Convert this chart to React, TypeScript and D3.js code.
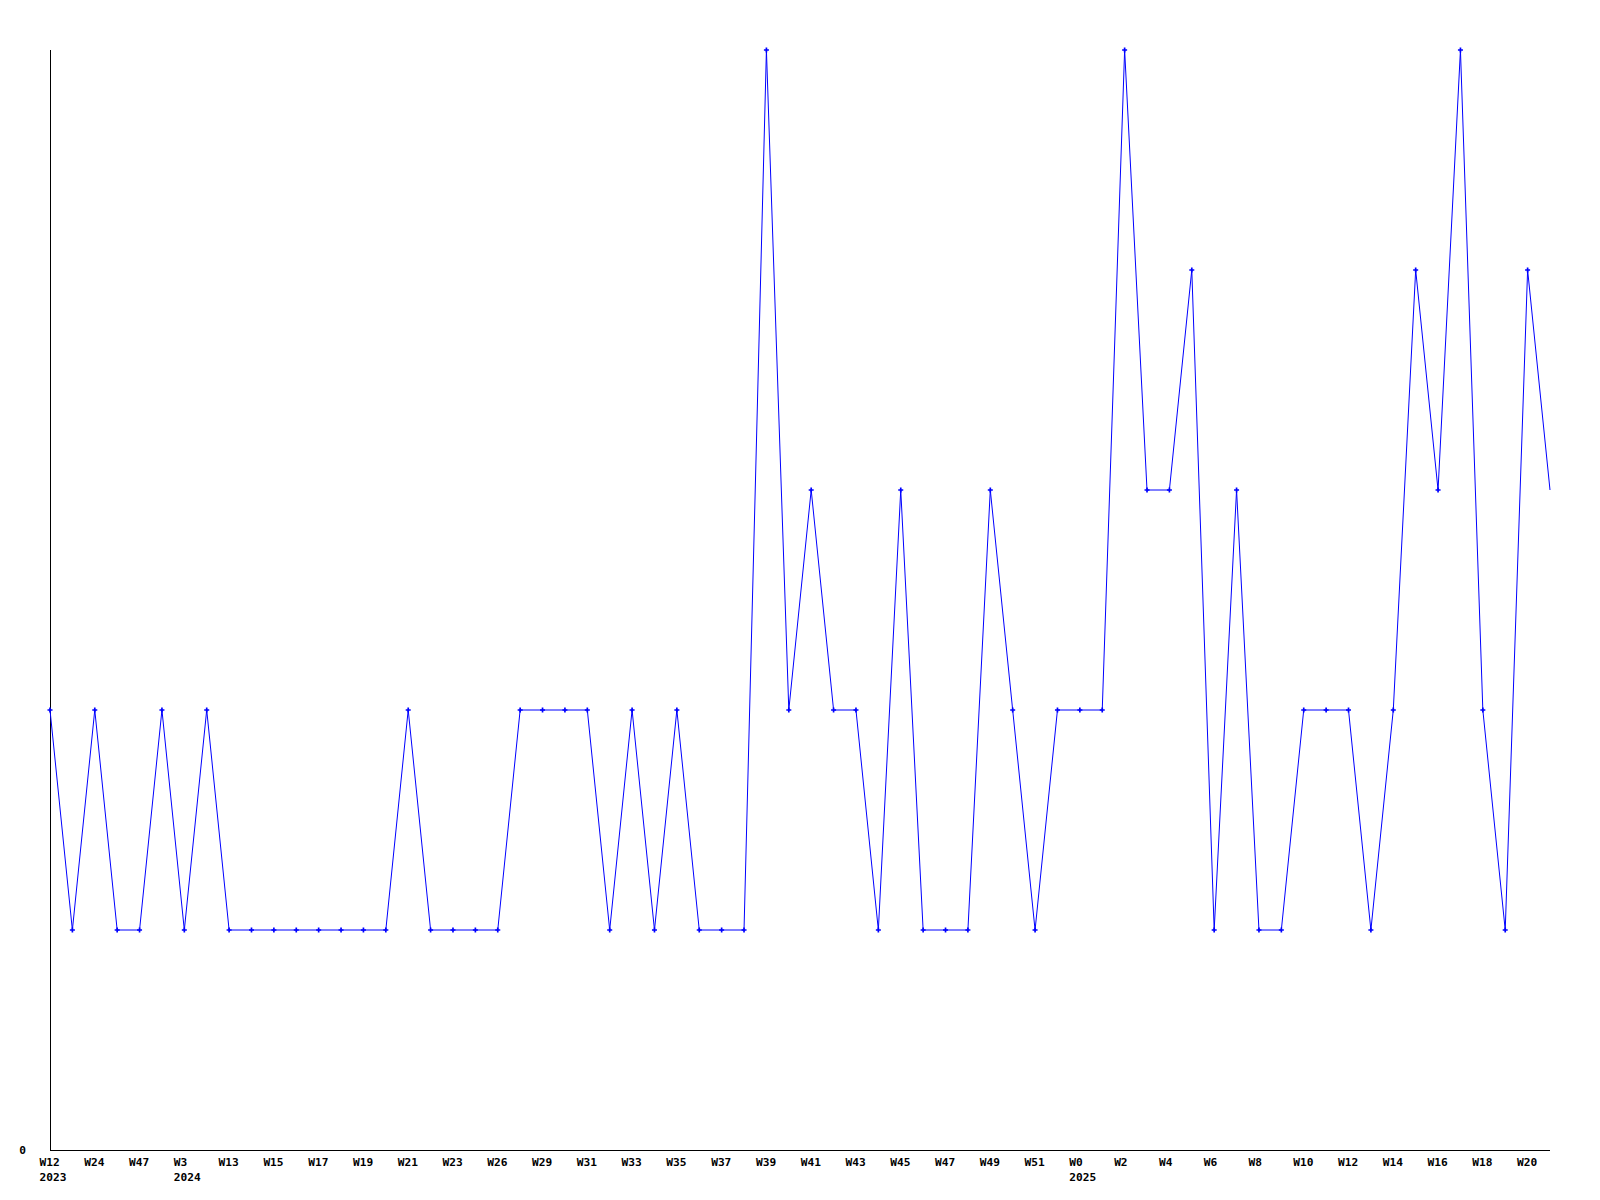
import React, { useEffect, useRef } from "react";
import * as d3 from "d3";

const values: number[] = [
  2, 1, 2, 1, 1, 2, 1, 2, 1, 1,
  1, 1, 1, 1, 1, 1, 2, 1, 1, 1,
  1, 2, 2, 2, 2, 1, 2, 1, 2, 1,
  1, 1, 5, 2, 3, 2, 2, 1, 3, 1,
  1, 1, 3, 2, 1, 2, 2, 2, 5, 3,
  3, 4, 1, 3, 1, 1, 2, 2, 2, 1,
  2, 4, 3, 5, 2, 1, 4, 3,
];

const tickWeeks: string[] = [
  "W12", "W24", "W47", "W3", "W13", "W15", "W17", "W19", "W21", "W23",
  "W26", "W29", "W31", "W33", "W35", "W37", "W39", "W41", "W43", "W45",
  "W47", "W49", "W51", "W0", "W2", "W4", "W6", "W8", "W10", "W12",
  "W14", "W16", "W18", "W20",
];
const tickYears: string[] = [
  "2023", "", "", "2024", "", "", "", "", "", "",
  "", "", "", "", "", "", "", "", "", "",
  "", "", "", "2025", "", "", "", "", "", "",
  "", "", "", "",
];
const yTicks: number[] = [0];

const W = 1600;
const H = 1200;
const left = 50;
const right = 1550;
const top = 50;
const bottom = 1150;
const font = "'DejaVu Sans Mono', monospace";
const fs = 11.2;

export default function App() {
  const ref = useRef<SVGSVGElement>(null);
  useEffect(() => {
    const svg = d3.select(ref.current);
    svg.selectAll("*").remove();
    const x = d3.scaleLinear().domain([0, values.length - 1]).range([left, right]);
    const y = d3.scaleLinear().domain([0, 5]).range([bottom, top]);

    svg.append("rect").attr("width", W).attr("height", H).attr("fill", "#fff");

    // axes
    svg.append("line").attr("x1", left).attr("x2", left).attr("y1", top).attr("y2", bottom)
      .attr("stroke", "#000").attr("stroke-width", 1).attr("shape-rendering", "crispEdges");
    svg.append("line").attr("x1", left).attr("x2", right).attr("y1", bottom).attr("y2", bottom)
      .attr("stroke", "#000").attr("stroke-width", 1).attr("shape-rendering", "crispEdges");

    // y tick labels
    svg.selectAll("text.yt").data(yTicks).enter().append("text")
      .attr("class", "yt")
      .attr("x", 26).attr("y", (d) => y(d) + 3.5)
      .attr("text-anchor", "end")
      .attr("font-family", font).attr("font-weight", "bold").attr("font-size", fs)
      .text((d) => String(d));

    // x tick labels (left-aligned slightly before each tick)
    tickWeeks.forEach((w, k) => {
      const idx = k * 2;
      svg.append("text")
        .attr("x", x(idx) - 10.5)
        .attr("y", 1166)
        .attr("font-family", font).attr("font-weight", "bold").attr("font-size", fs)
        .text(w);
      if (tickYears[k]) {
        svg.append("text")
          .attr("x", x(idx) - 10.5)
          .attr("y", 1181)
          .attr("font-family", font).attr("font-weight", "bold").attr("font-size", fs)
          .text(tickYears[k]);
      }
    });

    const line = d3.line<number>().x((_, i) => x(i)).y((d) => y(d));
    svg.append("path").datum(values).attr("d", line)
      .attr("fill", "none").attr("stroke", "#0000ff").attr("stroke-width", 1);

    const sym = d3.symbol().type(d3.symbolCross).size(14);
    svg.selectAll("path.m").data(values.slice(0, values.length - 1)).enter().append("path")
      .attr("class", "m")
      .attr("d", sym)
      .attr("transform", (d, i) => `translate(${x(i)},${y(d)})`)
      .attr("fill", "#0000ff");
  }, []);
  return (
    <svg ref={ref} width={W} height={H}
      style={{ position: "absolute", left: 0, top: 0, display: "block" }} />
  );
}
